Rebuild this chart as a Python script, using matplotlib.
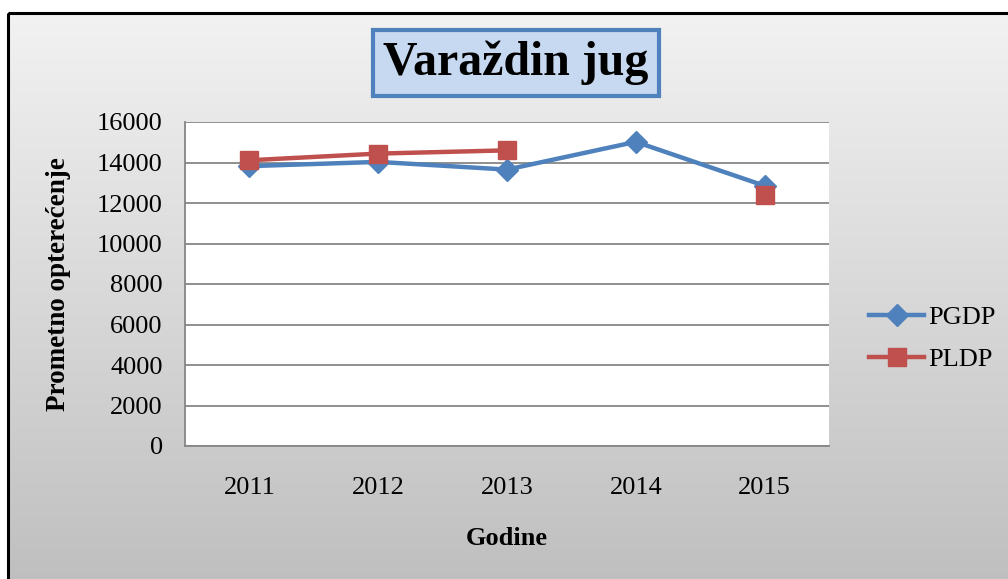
import numpy as np
import matplotlib
matplotlib.use("Agg")
import matplotlib.pyplot as plt
from matplotlib.patches import Rectangle

# Data
years = ["2011", "2012", "2013", "2014", "2015"]
pgdp = [13820, 14030, 13650, 15020, 12850]
pldp = [14110, 14440, 14600, np.nan, 12400]
y_ticks = [0, 2000, 4000, 6000, 8000, 10000, 12000, 14000, 16000]

BLUE = "#4f81bd"
RED = "#c0504d"
GRID = "#868686"

plt.rcParams["font.family"] = ["Liberation Serif", "DejaVu Serif"]

W, H = 1008, 579
fig = plt.figure(figsize=(W / 100, H / 100), dpi=100)

# Excel-like gradient background inside a black frame
bg = fig.add_axes([0, 0, 1, 1], zorder=-10)
bg.set_xlim(0, W)
bg.set_ylim(H, 0)
bg.axis("off")
grad = np.linspace(0, 1, 256)[:, None]
bg.imshow(grad, cmap=matplotlib.colors.LinearSegmentedColormap.from_list(
    "bg", ["#f2f2f2", "#bfbfbf"]), extent=[8, W + 5, H + 5, 13],
    aspect="auto", interpolation="bilinear")
bg.add_patch(Rectangle((8, 13), W, H, fill=False, edgecolor="black",
                       linewidth=2.2))

# Title in a blue box
fig.text(516 / W, 1 - 63 / H, "Varaždin jug", fontsize=34.5,
         fontweight="bold", ha="center", va="center",
         bbox=dict(boxstyle="square,pad=0.22", facecolor="#c6d9f1",
                   edgecolor=BLUE, linewidth=3))

ax = fig.add_axes([185 / W, 1 - 446 / H, (829 - 185) / W, (446 - 122) / H])
ax.set_facecolor("white")
x = np.arange(len(years))
ax.plot(x, pgdp, color=BLUE, linewidth=3.2, marker="D", markersize=11,
        label="PGDP", zorder=3)
ax.plot(x, pldp, color=RED, linewidth=3.2, marker="s", markersize=12.5,
        label="PLDP", zorder=4)

ax.set_xlim(-0.5, len(years) - 0.5)
ax.set_ylim(0, 16000)
ax.set_xticks(x)
ax.set_xticklabels(years)
ax.set_yticks(y_ticks)
ax.set_yticklabels([str(v) for v in y_ticks])
ax.yaxis.grid(True, color=GRID, linewidth=1.3)
ax.set_axisbelow(True)
for side in ["top", "right"]:
    ax.spines[side].set_visible(False)
for side in ["left", "bottom"]:
    ax.spines[side].set_color(GRID)
    ax.spines[side].set_linewidth(1.3)
ax.tick_params(axis="both", length=0, labelsize=19)
ax.tick_params(axis="y", pad=16)
ax.tick_params(axis="x", pad=22)

ax.set_ylabel("Prometno opterećenje", fontsize=19.5, fontweight="bold")
ax.yaxis.set_label_coords(-(185 - 71) / (829 - 185), 0.5)
ax.set_xlabel("Godine", fontsize=19, fontweight="bold")
ax.xaxis.set_label_coords(0.5, -(527 - 446) / (446 - 122))

ax.legend(loc="center left", bbox_to_anchor=(869 / W, 1 - 338.5 / H),
          bbox_transform=fig.transFigure, frameon=False, fontsize=19,
          handlelength=2.1, handletextpad=0.15, labelspacing=0.7,
          borderpad=0, borderaxespad=0)

fig.savefig("out.png", dpi=100)
